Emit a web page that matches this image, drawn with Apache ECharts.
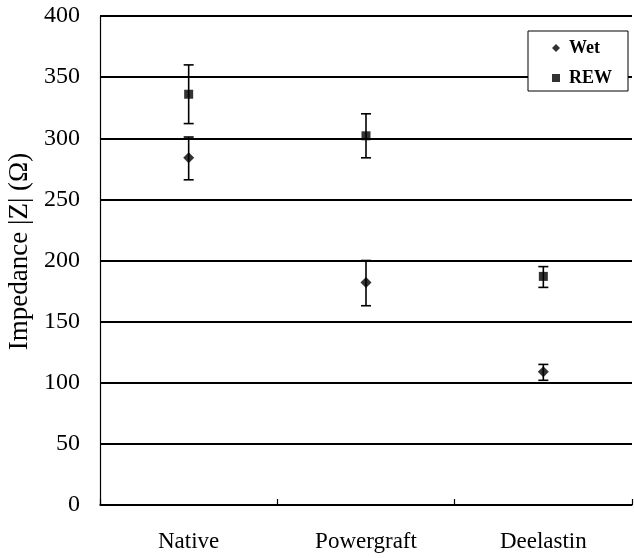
<!DOCTYPE html>
<html>
<head>
<meta charset="utf-8">
<script src="https://cdn.jsdelivr.net/npm/echarts@6/dist/echarts.min.js"></script>
<style>html,body{margin:0;padding:0;background:#fff}#c{width:634px;height:559px}</style>
</head>
<body>
<div id="c"></div>
<script>
const categories = ['Native', 'Powergraft', 'Deelastin'];
const wetValues = [284, 182, 109];
const wetErrLow = [266, 163, 102];
const wetErrHigh = [301, 200, 115];
const rewValues = [336, 302, 187];
const rewErrLow = [312, 284, 178];
const rewErrHigh = [360, 320, 195];
const yTicks = [0, 50, 100, 150, 200, 250, 300, 350, 400];

const font = '"Liberation Serif", "Times New Roman", serif';
const chart = echarts.init(document.getElementById('c'), null, {renderer: 'canvas'});

function errData(low, high) {
  return categories.map((c, i) => [i, low[i], high[i]]);
}
function errRender(params, api) {
  const x = api.value(0);
  const lo = api.coord([x, api.value(1)]);
  const hi = api.coord([x, api.value(2)]);
  const w = 5;
  const style = {stroke: '#000', lineWidth: 1.6};
  return {
    type: 'group',
    children: [
      {type: 'line', shape: {x1: lo[0], y1: lo[1], x2: hi[0], y2: hi[1]}, style},
      {type: 'line', shape: {x1: lo[0] - w, y1: lo[1], x2: lo[0] + w, y2: lo[1]}, style},
      {type: 'line', shape: {x1: hi[0] - w, y1: hi[1], x2: hi[0] + w, y2: hi[1]}, style}
    ]
  };
}

chart.setOption({
  animation: false,
  backgroundColor: '#fff',
  grid: {left: 100, right: 2, top: 16, bottom: 54, containLabel: false, outerBoundsMode: 'none'},
  legend: {
    data: [{name: 'Wet', icon: 'diamond'}, {name: 'REW', icon: 'rect'}],
    orient: 'vertical',
    left: 528, top: 31,
    itemWidth: 8, itemHeight: 8, itemGap: 12,
    padding: [8, 16, 4, 24],
    borderColor: '#000', borderWidth: 1,
    backgroundColor: '#fff',
    textStyle: {fontFamily: font, fontSize: 18, color: '#000', fontWeight: 'bold', padding: [0, 0, 0, 4]}
  },
  xAxis: {
    type: 'category',
    data: categories,
    boundaryGap: true,
    axisLine: {lineStyle: {color: '#000', width: 1.5}},
    axisTick: {show: true, inside: true, length: 6, lineStyle: {color: '#000', width: 1.2}},
    axisLabel: {fontFamily: font, fontSize: 23, color: '#000', margin: 25},
    splitLine: {show: false}
  },
  yAxis: {
    type: 'value',
    min: 0, max: 400, interval: 50,
    name: 'Impedance |Z| (Ω)',
    nameLocation: 'middle',
    nameGap: 61,
    nameTextStyle: {fontFamily: font, fontSize: 27, color: '#000', padding: [0, 0, 0, 18]},
    axisLine: {show: true, lineStyle: {color: '#000', width: 1.2}},
    axisTick: {show: false},
    axisLabel: {fontFamily: font, fontSize: 24, color: '#000', margin: 20,
      formatter: v => yTicks.includes(v) ? String(v) : ''},
    splitLine: {show: true, lineStyle: {color: '#000', width: 1.8}}
  },
  series: [
    {type: 'custom', name: 'wetErr', renderItem: errRender, data: errData(wetErrLow, wetErrHigh), encode: {x: 0, y: [1, 2]}, z: 3, silent: true},
    {type: 'custom', name: 'rewErr', renderItem: errRender, data: errData(rewErrLow, rewErrHigh), encode: {x: 0, y: [1, 2]}, z: 3, silent: true},
    {type: 'scatter', name: 'Wet', data: wetValues, symbol: 'diamond', symbolSize: 11, itemStyle: {color: '#000'}, z: 4},
    {type: 'scatter', name: 'REW', data: rewValues, symbol: 'rect', symbolSize: 9, itemStyle: {color: '#000'}, z: 4}
  ]
});
</script>
</body>
</html>
